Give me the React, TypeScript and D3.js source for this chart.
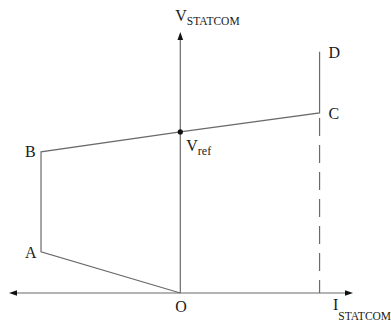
import React from "react";
import * as d3 from "d3";

// Characteristic curve O-A-B-Vref-C-D (per-unit current / voltage)
const curveLabels = ["O", "A", "B", "Vref", "C", "D"];
const curveI = [0, -1, -1, 0, 1, 1];
const curveV = [0, 0.255, 0.876, 1.0, 1.118, 1.497];
const iDomain = [-1.23, 1.24];
const vDomain = [0, 1.62];
const vRef = 1.0;

const W = 391;
const H = 322;
const FONT = "Liberation Serif, Times New Roman, Times, serif";
const LINE = "#6a6a6a";
const TXT = "#1a1a1a";

export default function App() {
  const x = d3.scaleLinear().domain(iDomain).range([9, 353]);
  const y = d3.scaleLinear().domain(vDomain).range([293, 32]);

  const pts: [number, number][] = curveI.map((v, i) => [v, curveV[i]]);
  const line = d3
    .line<[number, number]>()
    .x((d) => x(d[0]))
    .y((d) => y(d[1]));

  const x0 = x(0);
  const y0 = y(0);
  const xL = x(iDomain[0]);
  const xR = x(iDomain[1]);
  const yT = y(vDomain[1]);
  const cIdx = curveLabels.indexOf("C");
  const dIdx = curveLabels.indexOf("D");
  const aIdx = curveLabels.indexOf("A");
  const bIdx = curveLabels.indexOf("B");
  const oIdx = curveLabels.indexOf("O");

  const ah = 8; // arrow length
  const aw = 2.8; // arrow half width

  const letter = (t: string, px: number, py: number) => (
    <text x={px} y={py} fontFamily={FONT} fontSize={16} fill={TXT}>
      {t}
    </text>
  );

  return (
    <svg
      width={W}
      height={H}
      style={{ position: "absolute", left: 0, top: 0, background: "#fff" }}
    >
      {/* axes */}
      <line x1={xL + 4} y1={y0} x2={xR - 4} y2={y0} stroke={LINE} strokeWidth={1.2} />
      <line x1={x0} y1={y0} x2={x0} y2={yT + 4} stroke={LINE} strokeWidth={1.2} />
      <path d={`M${xL},${y0} L${xL + ah},${y0 - aw} L${xL + ah},${y0 + aw} Z`} fill="#111" />
      <path d={`M${xR},${y0} L${xR - ah},${y0 - aw} L${xR - ah},${y0 + aw} Z`} fill="#111" />
      <path d={`M${x0},${yT} L${x0 - aw},${yT + ah} L${x0 + aw},${yT + ah} Z`} fill="#111" />

      {/* dashed line below C */}
      <line
        x1={x(curveI[cIdx])}
        y1={y(curveV[cIdx]) + 5}
        x2={x(curveI[cIdx])}
        y2={y0}
        stroke={LINE}
        strokeWidth={1.2}
        strokeDasharray="18,9"
      />

      {/* characteristic */}
      <path d={line(pts) || ""} fill="none" stroke={LINE} strokeWidth={1.2} />
      <circle cx={x0} cy={y(vRef)} r={2.6} fill="#111" />

      {/* labels */}
      {letter("A", x(curveI[aIdx]) - 16, y(curveV[aIdx]) + 6)}
      {letter("B", x(curveI[bIdx]) - 16, y(curveV[bIdx]) + 5)}
      {letter("C", x(curveI[cIdx]) + 9, y(curveV[cIdx]) + 6)}
      {letter("D", x(curveI[dIdx]) + 9, y(curveV[dIdx]) + 6)}
      {letter("O", x(curveI[oIdx]) - 5, y0 + 19)}

      <text x={x0 + 6} y={y(vRef) + 19} fontFamily={FONT} fontSize={16} fill={TXT}>
        V
        <tspan fontSize={12} dy={4}>ref</tspan>
      </text>
      <text x={x0 - 5} y={21} fontFamily={FONT} fontSize={16} fill={TXT}>
        V
        <tspan fontSize={11.5} dy={4}>STATCOM</tspan>
      </text>
      <text x={333} y={310} fontFamily={FONT} fontSize={16} fill={TXT}>
        I
        <tspan fontSize={11.5} dy={10}>STATCOM</tspan>
      </text>
    </svg>
  );
}
